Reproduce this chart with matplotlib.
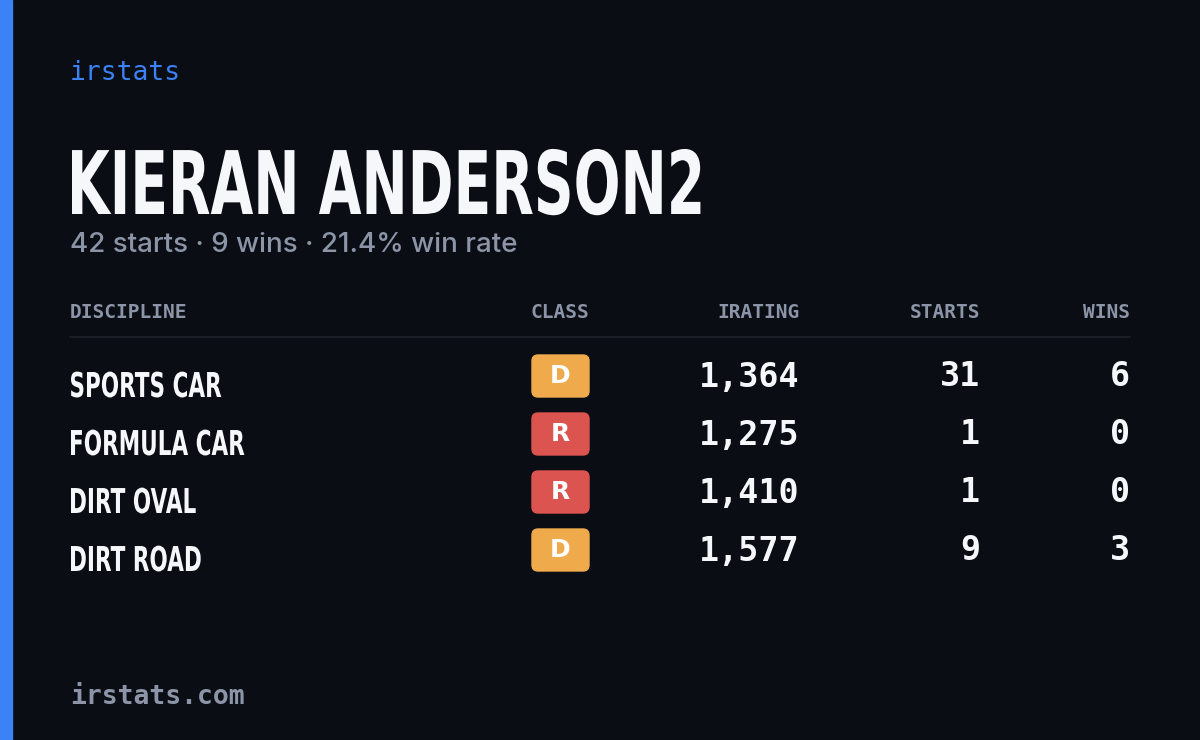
import matplotlib
matplotlib.use('Agg')
import matplotlib.pyplot as plt
from matplotlib.patches import FancyBboxPatch, Rectangle, PathPatch
from matplotlib.textpath import TextPath
from matplotlib.font_manager import FontProperties
from matplotlib.transforms import Affine2D

# ── data ──
driver = "KIERAN ANDERSON2"
total_starts = 42
total_wins = 9
disciplines = ["SPORTS CAR", "FORMULA CAR", "DIRT OVAL", "DIRT ROAD"]
classes = ["D", "R", "R", "D"]
iratings = [1364, 1275, 1410, 1577]
starts = [31, 1, 1, 9]
wins = [6, 0, 0, 3]
columns = ["DISCIPLINE", "CLASS", "IRATING", "STARTS", "WINS"]

BG = '#0a0d14'
BLUE = '#3b82f6'
MUTED = '#8b95a7'
WHITE = '#f5f7fa'
CLASS_COLORS = {"D": '#efab4b', "R": '#dc5450'}
MONO = ['DejaVu Sans Mono']
BOLD = FontProperties(family='DejaVu Sans', weight='bold')


def condensed(ax, x, baseline, s, cap_h, squeeze, color):
    """Draw a condensed bold label as a path (no narrow font installed)."""
    tp = TextPath((0, 0), s, prop=BOLD, size=1)
    ext = tp.get_extents()
    k = cap_h / 0.73
    tr = Affine2D().translate(-ext.x0, 0).scale(k * squeeze, -k).translate(x, baseline)
    ax.add_patch(PathPatch(tr.transform_path(tp), color=color, lw=0))


fig = plt.figure(figsize=(12, 7.4), dpi=100, facecolor=BG)
ax = fig.add_axes([0, 0, 1, 1])
ax.set_xlim(0, 1200)
ax.set_ylim(740, 0)
ax.axis('off')
ax.add_patch(Rectangle((0, 0), 12, 740, color=BLUE))

ax.text(70, 73, "irstats", color=BLUE, fontsize=19, family=MONO, va='center')
condensed(ax, 72, 214, driver, 64, 0.63, WHITE)
rate = 100 * total_wins / total_starts
ax.text(70, 245, f"{total_starts} starts · {total_wins} wins · {rate:.1f}% win rate",
        color=MUTED, fontsize=20, family=['Inter', 'DejaVu Sans'], fontweight='medium',
        va='center')

col_x = [70, 560, 800, 980, 1130]
col_ha = ['left', 'center', 'right', 'right', 'right']
for name, x, ha in zip(columns, col_x, col_ha):
    ax.text(x, 313, name, color=MUTED, fontsize=14, family=MONO, fontweight='bold',
            ha=ha, va='center')
ax.plot([70, 1130], [337, 337], color='#1d222c', lw=1.2)

for i, (d, c, ir, s, w) in enumerate(zip(disciplines, classes, iratings, starts, wins)):
    y = 377 + 58 * i
    condensed(ax, 71, y + 20, d, 25, 0.63, WHITE)
    ax.add_patch(FancyBboxPatch((532, y - 22), 57, 42, boxstyle="round,pad=0,rounding_size=6",
                                color=CLASS_COLORS[c]))
    ax.text(560, y - 1, c, color='white', fontsize=18, fontweight='bold',
            ha='center', va='center')
    for val, x in zip([f"{ir:,}", str(s), str(w)], col_x[2:]):
        ax.text(x, y, val, color=WHITE, fontsize=24, family=MONO, fontweight='bold',
                ha='right', va='center')

ax.text(70, 697, "irstats.com", color=MUTED, fontsize=19, family=MONO,
        fontweight='bold', va='center')

fig.savefig('out.png', dpi=100, facecolor=BG)
